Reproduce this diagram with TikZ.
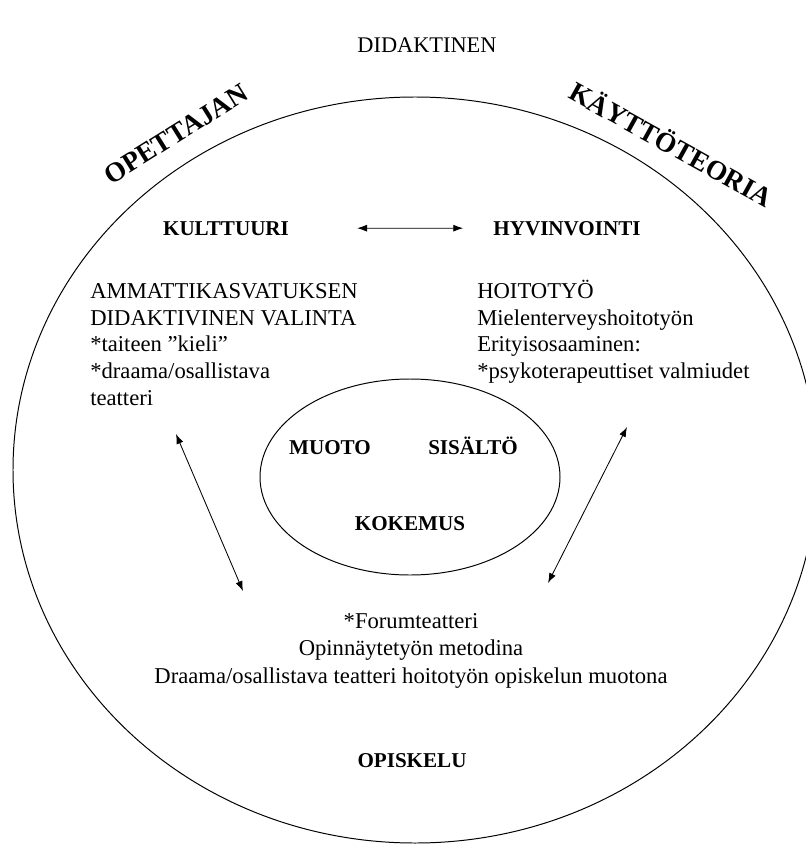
\documentclass[tikz,border=0pt]{standalone}
\usepackage{fontspec}
\setmainfont{Liberation Serif}
\usetikzlibrary{arrows.meta}

\begin{document}
\begin{tikzpicture}[x=0.025cm,y=-0.025cm,
    txt/.style={inner sep=0pt, font=\fontsize{16.1}{18.85}\selectfont},
    lbl/.style={inner sep=0pt, anchor=base, font=\fontsize{15}{18}\selectfont\bfseries},
    arc/.style={inner sep=0pt, font=\fontsize{19.5}{22}\selectfont\bfseries},
    link/.style={{Latex[length=7pt,width=5pt]}-{Latex[length=7pt,width=5pt]}, line width=0.6pt}]
  \useasboundingbox (0,0) rectangle (805,846);
  % rings
  \draw[line width=0.7pt] (415,470) ellipse [x radius=402, y radius=373];
  \draw[line width=0.7pt] (410,477) ellipse [x radius=150, y radius=98];
  % title words
  \node[txt, font=\fontsize{15.9}{19}\selectfont] (didaktinen) at (427,45) {DIDAKTINEN};
  \node[arc, rotate=32] (opettajan) at (176,134) {OPETTAJAN};
  \node[arc, rotate=-29] (kaytto) at (672,143) {KÄYTTÖTEORIA};
  % the two fields
  \node[lbl] (kulttuuri) at (226,235) {KULTTUURI};
  \node[lbl] (hyvinvointi) at (567,235) {HYVINVOINTI};
  \draw[link, shorten <=1.7cm, shorten >=0.75cm] (kulttuuri.east) -- (hyvinvointi.west);
  \node[txt, align=left, anchor=base west] (valinta) at (90,405)
    {AMMATTIKASVATUKSEN\\DIDAKTIVINEN VALINTA\\*taiteen ”kieli”\\*draama/osallistava\\teatteri};
  \node[txt, align=left, anchor=base west] (hoitotyo) at (477,378.5)
    {HOITOTYÖ\\Mielenterveyshoitotyön\\Erityisosaaminen:\\*psykoterapeuttiset valmiudet};
  % centre
  \node[lbl] (muoto) at (330,454) {MUOTO};
  \node[lbl] (sisalto) at (473,454) {SISÄLTÖ};
  \node[lbl] (kokemus) at (410,530) {KOKEMUS};
  % studies
  \node[txt, align=center, anchor=base, font=\fontsize{16.1}{19.5}\selectfont] (forum) at (411,683)
    {*Forumteatteri\\Opinnäytetyön metodina\\Draama/osallistava teatteri hoitotyön opiskelun muotona};
  \node[lbl] (opiskelu) at (412,767) {OPISKELU};
  \coordinate (l1) at (176,434);
  \coordinate (l2) at (243,591);
  \coordinate (r1) at (627,427);
  \coordinate (r2) at (548,583);
  \draw[link] (l1) -- (l2);
  \draw[link] (r1) -- (r2);
\end{tikzpicture}
\end{document}
